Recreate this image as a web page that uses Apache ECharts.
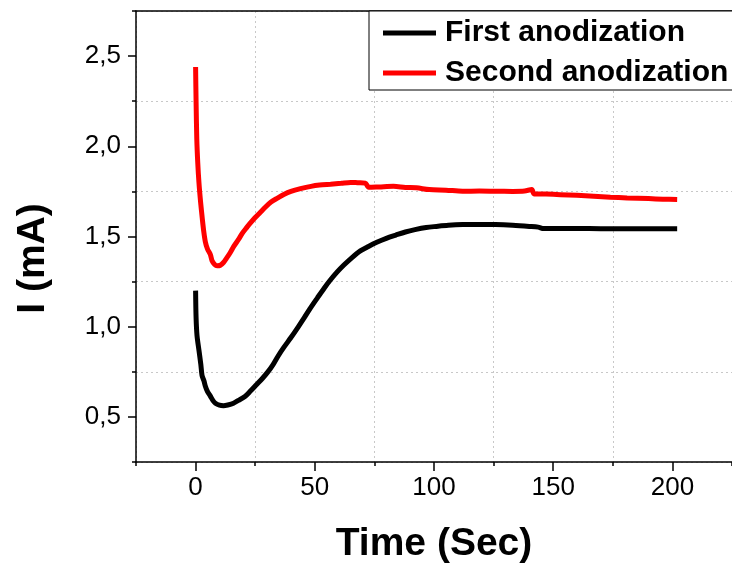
<!DOCTYPE html>
<html>
<head>
<meta charset="utf-8">
<script src="https://cdn.jsdelivr.net/npm/echarts@6/dist/echarts.min.js"></script>
<style>
  html, body { margin: 0; padding: 0; background: #fff; }
  #chart { width: 732px; height: 569px; }
</style>
</head>
<body>
<div id="chart"></div>
<script>
// first anodization, time (s) and current (mA)
var firstTime = [0, 0.2, 0.6, 1.4, 2.2, 2.7, 3.5, 4.1, 5, 6.2, 7.3, 8.3, 10, 11.7, 13.5, 15.9, 18, 20.7, 23, 25.5,
  28, 30.4, 32.5, 34.5, 37, 40, 43, 45.6, 48, 51.1, 54, 56.6, 59.5, 62.2, 65.5, 69.1, 72.5, 76, 80, 84,
  88, 92, 96.7, 101, 106, 112, 119, 125.8, 133, 140, 143.7, 146, 155, 165, 175, 185, 195, 202];
var firstCurrent = [1.20, 1.05, 0.95, 0.87, 0.79, 0.73, 0.70, 0.67, 0.64, 0.615, 0.59, 0.576, 0.565, 0.562, 0.566, 0.576, 0.592, 0.613, 0.643, 0.678,
  0.713, 0.751, 0.79, 0.835, 0.885, 0.94, 0.998, 1.05, 1.10, 1.16, 1.215, 1.26, 1.305, 1.342, 1.382, 1.42, 1.445, 1.468, 1.49, 1.508,
  1.525, 1.538, 1.55, 1.556, 1.562, 1.566, 1.567, 1.566, 1.562, 1.556, 1.552, 1.544, 1.544, 1.544, 1.543, 1.543, 1.543, 1.543];

// second anodization
var secondTime = [0, 0.2, 0.5, 0.9, 1.4, 2.1, 2.8, 3.4, 4.1, 5, 6.2, 6.9, 8, 9, 10.3, 11.7, 13, 14.5, 16, 18,
  19.7, 21.4, 23, 24.9, 27, 29, 31.5, 34.5, 37, 40, 44, 48.4, 52, 56.6, 61, 65, 68, 71.2, 72.6, 77,
  83, 88, 92.6, 98, 105, 112, 119, 125.8, 133, 138, 141, 142, 147, 153, 160, 167, 174, 181, 190, 196, 202];
var secondCurrent = [2.44, 2.25, 2.04, 1.91, 1.80, 1.69, 1.60, 1.53, 1.47, 1.43, 1.40, 1.366, 1.345, 1.338, 1.34, 1.356, 1.38, 1.41, 1.445, 1.484,
  1.52, 1.549, 1.575, 1.604, 1.632, 1.659, 1.69, 1.714, 1.733, 1.75, 1.765, 1.778, 1.785, 1.79, 1.795, 1.80, 1.798, 1.796, 1.773, 1.775,
  1.778, 1.772, 1.77, 1.76, 1.757, 1.751, 1.752, 1.751, 1.75, 1.752, 1.76, 1.736, 1.735, 1.732, 1.728, 1.723, 1.718, 1.714, 1.71, 1.707, 1.705];

var xMajorTicks = [0, 50, 100, 150, 200];
var xMinorTicks = [-25, 25, 75, 125, 175, 225];
var yMajorTicks = [0.5, 1.0, 1.5, 2.0, 2.5];
var yMinorTicks = [0.25, 0.75, 1.25, 1.75, 2.25, 2.75];

function pairs(xs, ys) {
  return xs.map(function (x, i) { return [x, ys[i]]; });
}

var font = 'Liberation Sans, Arial, sans-serif';
var black = '#000';
var gridLine = { show: true, lineStyle: { color: '#c8c8c8', type: [2, 3], width: 1 } };

var chart = echarts.init(document.getElementById('chart'));
var option = {
  animation: false,
  textStyle: { fontFamily: font },
  grid: { left: 136, top: 11, right: -7, bottom: 103 },
  legend: {
    orient: 'vertical',
    left: 369,
    top: 11,
    padding: [7, 20, 2, 14],
    itemGap: 10,
    itemWidth: 53,
    itemHeight: 5,
    icon: 'rect',
    borderColor: black,
    borderWidth: 1,
    backgroundColor: '#fff',
    textStyle: { fontSize: 30, fontWeight: 'bold', color: black, lineHeight: 30, padding: [0, 0, 0, 4] },
    data: ['First anodization', 'Second anodization']
  },
  xAxis: [
    {
      type: 'value', min: -25, max: 225, position: 'bottom',
      name: 'Time (Sec)', nameLocation: 'middle', nameGap: 63,
      nameTextStyle: { fontSize: 39, fontWeight: 'bold', color: black },
      axisLine: { show: true, onZero: false, lineStyle: { color: black, width: 1.5 } },
      axisTick: { show: true, length: 9, customValues: xMajorTicks, lineStyle: { color: black, width: 1.5 } },
      axisLabel: { customValues: xMajorTicks, margin: 13, fontSize: 26, color: black },
      splitLine: { show: false }
    },
    {
      type: 'value', min: -25, max: 225, position: 'bottom',
      axisLine: { show: false, onZero: false },
      axisTick: { show: true, length: 4, customValues: xMinorTicks, lineStyle: { color: black, width: 1.5 } },
      axisLabel: { show: false },
      splitLine: gridLine
    },
    {
      type: 'value', min: -25, max: 225, position: 'top',
      axisLine: { show: true, onZero: false, lineStyle: { color: black, width: 1.5 } },
      axisTick: { show: false },
      axisLabel: { show: false },
      splitLine: { show: false }
    }
  ],
  yAxis: [
    {
      type: 'value', min: 0.25, max: 2.75, position: 'left',
      name: 'I (mA)', nameLocation: 'middle', nameGap: 83, nameRotate: 90,
      nameTextStyle: { fontSize: 39, fontWeight: 'bold', color: black, padding: [0, 44, 0, 0] },
      axisLine: { show: true, onZero: false, lineStyle: { color: black, width: 1.5 } },
      axisTick: { show: true, length: 8, customValues: yMajorTicks, lineStyle: { color: black, width: 1.5 } },
      axisLabel: {
        customValues: yMajorTicks, margin: 15, fontSize: 26, color: black,
        formatter: function (v) { return v.toFixed(1).replace('.', ','); }
      },
      splitLine: { show: false }
    },
    {
      type: 'value', min: 0.25, max: 2.75, position: 'left',
      axisLine: { show: false, onZero: false },
      axisTick: { show: true, length: 4, customValues: yMinorTicks, lineStyle: { color: black, width: 1.5 } },
      axisLabel: { show: false },
      splitLine: gridLine
    }
  ],
  series: [
    {
      name: 'First anodization',
      type: 'line',
      data: pairs(firstTime, firstCurrent),
      showSymbol: false,
      smooth: 0.3,
      color: black,
      lineStyle: { color: black, width: 5 }
    },
    {
      name: 'Second anodization',
      type: 'line',
      data: pairs(secondTime, secondCurrent),
      showSymbol: false,
      smooth: 0.3,
      color: '#ff0000',
      lineStyle: { color: '#ff0000', width: 5 }
    }
  ]
};
chart.setOption(option);
window.addEventListener('resize', function () {
  chart.resize();
});
</script>
</body>
</html>
